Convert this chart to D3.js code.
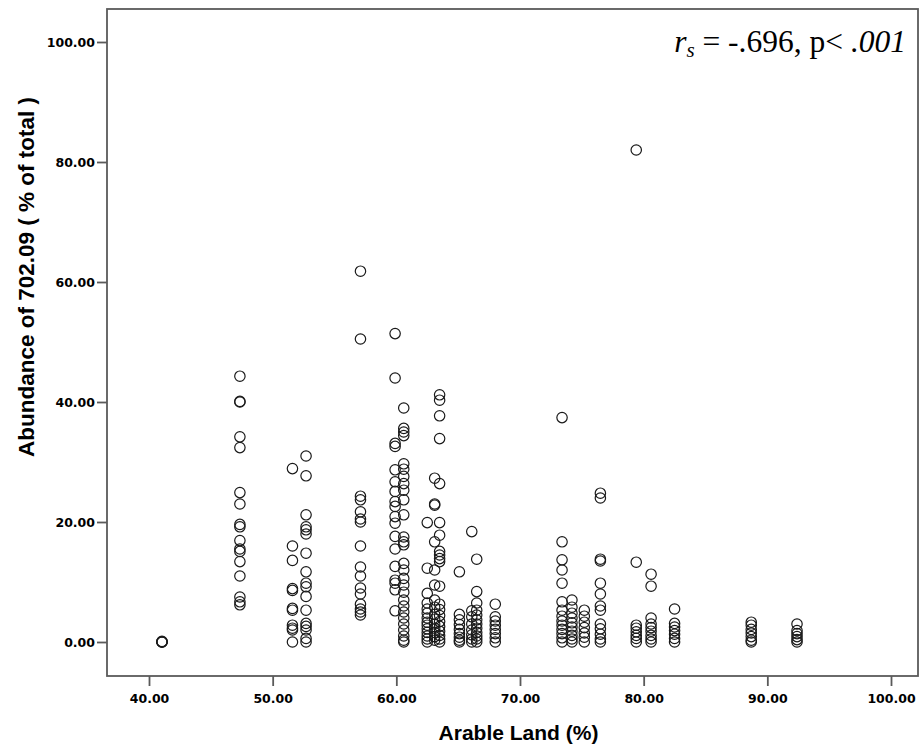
<!DOCTYPE html>
<html>
<head>
<meta charset="utf-8">
<script src="https://cdn.jsdelivr.net/npm/d3@7"></script>
<style>
  html, body { margin: 0; padding: 0; background: #fff; }
  svg { display: block; }
</style>
</head>
<body>
<svg id="chart" width="924" height="749"></svg>
<script>
// ---- data ----
const xTicks = [40, 50, 60, 70, 80, 90, 100];
const yTicks = [0, 20, 40, 60, 80, 100];
const arableLand = [41.05, 47.35, 51.6, 52.7, 57.1, 59.9, 60.6, 62.5, 63.1, 63.5, 65.1, 66.1, 66.5, 68.0, 73.4, 74.2, 75.2, 76.5, 79.4, 80.6, 82.5, 88.7, 92.4];
const abundance = [
  [0, 0, 0, 0.1],
  [44.3, 40.0, 40.1, 34.2, 32.4, 24.9, 23.0, 19.6, 19.2, 16.9, 15.5, 15.1, 13.4, 11.0, 7.5, 6.7, 6.2],
  [28.9, 16.0, 13.6, 8.9, 8.6, 5.6, 5.3, 2.8, 2.3, 2.0, 0.0],
  [31.0, 27.7, 21.2, 19.2, 18.7, 18.0, 14.8, 11.7, 9.8, 9.2, 7.6, 5.3, 3.1, 2.6, 2.0, 0.6, 0.0],
  [61.8, 50.5, 24.3, 23.7, 21.7, 20.5, 20.0, 16.0, 12.5, 11.0, 9.0, 8.0, 6.3, 5.5, 5.0, 4.5],
  [51.4, 44.0, 33.1, 32.6, 28.7, 26.7, 25.1, 23.4, 22.6, 20.9, 19.8, 17.6, 15.5, 12.6, 10.3, 9.8, 8.7, 5.2],
  [39.0, 35.6, 35.0, 34.4, 29.7, 28.8, 27.6, 26.4, 25.3, 23.7, 21.2, 17.5, 16.7, 16.2, 13.1, 12.0, 10.6, 9.5, 8.3, 7.0, 6.0, 5.0, 4.0, 3.0, 2.0, 1.0, 0.3, 0.0],
  [19.9, 12.3, 8.1, 6.5, 5.5, 4.8, 4.0, 3.3, 2.8, 2.2, 1.6, 1.0, 0.5, 0.0],
  [27.3, 23.0, 22.8, 16.7, 12.0, 9.5, 7.0, 5.8, 4.6, 3.8, 3.0, 2.3, 1.6, 0.9, 0.3],
  [41.2, 40.3, 37.7, 33.9, 26.4, 19.9, 17.8, 15.1, 14.5, 13.9, 13.4, 9.3, 6.3, 5.4, 4.4, 3.4, 2.6, 1.8, 1.1, 0.5, 0.0],
  [11.7, 4.6, 3.7, 2.9, 2.1, 1.4, 0.8, 0.3, 0.0],
  [18.4, 5.2, 4.2, 3.0, 2.0, 1.2, 0.5, 0.0],
  [13.8, 8.4, 6.5, 5.3, 4.5, 3.7, 3.0, 2.3, 1.6, 1.0, 0.5, 0.0],
  [6.3, 4.2, 3.5, 2.8, 2.1, 1.4, 0.7, 0.0],
  [37.4, 16.7, 13.7, 12.0, 9.8, 6.7, 5.3, 4.3, 3.5, 2.8, 2.1, 1.4, 0.7, 0.0],
  [7.0, 5.8, 4.8, 4.0, 3.2, 2.5, 1.8, 1.1, 0.5, 0.0],
  [5.3, 4.3, 3.3, 2.4, 1.5, 0.8, 0.0],
  [24.8, 24.0, 13.8, 13.5, 9.8, 8.0, 6.0, 5.3, 3.0, 2.2, 1.3, 0.5, 0.0],
  [82.0, 13.3, 2.8, 2.3, 1.7, 1.1, 0.6, 0.0],
  [11.3, 9.3, 4.0, 3.0, 2.4, 1.8, 1.1, 0.5, 0.0],
  [5.5, 3.1, 2.5, 1.9, 1.3, 0.6, 0.0],
  [3.3, 2.8, 2.1, 1.5, 0.9, 0.3, 0.0],
  [3.0, 1.9, 1.4, 0.9, 0.4, 0.0]
];
const xTitle = "Arable Land (%)";
const yTitle = "Abundance of 702.09 ( % of total )";

// ---- layout ----
const svg = d3.select("#chart");
const frame = { left: 107, right: 918, top: 9, bottom: 676 };
const x = d3.scaleLinear().domain([40, 100]).range([149, 891]);
const y = d3.scaleLinear().domain([0, 100]).range([642, 42]);

const points = [];
arableLand.forEach((lx, i) => abundance[i].forEach(v => points.push({ x: lx, y: v })));

// frame
svg.append("rect")
  .attr("x", frame.left).attr("y", frame.top)
  .attr("width", frame.right - frame.left).attr("height", frame.bottom - frame.top)
  .attr("fill", "none").attr("stroke", "#5a5a5a").attr("stroke-width", 1.8);

// axes
const gx = svg.append("g").attr("transform", `translate(0,${frame.bottom})`)
  .call(d3.axisBottom(x).tickValues(xTicks).tickFormat(d3.format(".2f")).tickSize(10).tickSizeOuter(0).tickPadding(8));
const gy = svg.append("g").attr("transform", `translate(${frame.left},0)`)
  .call(d3.axisLeft(y).tickValues(yTicks).tickFormat(d3.format(".2f")).tickSize(10).tickSizeOuter(0).tickPadding(2));
[gx, gy].forEach(g => {
  g.select(".domain").remove();
  g.selectAll(".tick line").attr("stroke", "#5a5a5a").attr("stroke-width", 1.8);
  g.selectAll(".tick text")
    .attr("fill", "#000")
    .style("font-family", "'DejaVu Sans', Verdana, sans-serif")
    .style("font-weight", "bold")
    .style("font-size", "12.5px");
});

// points
svg.append("g").selectAll("circle").data(points).join("circle")
  .attr("cx", d => x(d.x)).attr("cy", d => y(d.y)).attr("r", 5.2)
  .attr("fill", "none").attr("stroke", "#1a1a1a").attr("stroke-width", 1.2);

// titles
svg.append("text")
  .attr("x", (frame.left + frame.right) / 2 + 6).attr("y", 740)
  .attr("text-anchor", "middle")
  .style("font-family", "'Liberation Sans', Arial, sans-serif")
  .style("font-weight", "bold").style("font-size", "21px")
  .text(xTitle);
svg.append("text")
  .attr("transform", `translate(34,277) rotate(-90)`)
  .attr("text-anchor", "middle")
  .style("font-family", "'Liberation Sans', Arial, sans-serif")
  .style("font-weight", "bold").style("font-size", "22.5px")
  .text(yTitle);

// annotation
const ann = svg.append("text")
  .attr("x", 906).attr("y", 52).attr("text-anchor", "end")
  .style("font-family", "'Liberation Serif', 'Times New Roman', serif")
  .style("font-size", "31.5px");
ann.append("tspan").style("font-style", "italic").text("r");
ann.append("tspan").style("font-style", "italic").style("font-size", "21px").attr("dy", 5).text("s");
ann.append("tspan").attr("dy", -5).text(" = -.696, p< ");
ann.append("tspan").style("font-style", "italic").text(".001");
</script>
</body>
</html>
